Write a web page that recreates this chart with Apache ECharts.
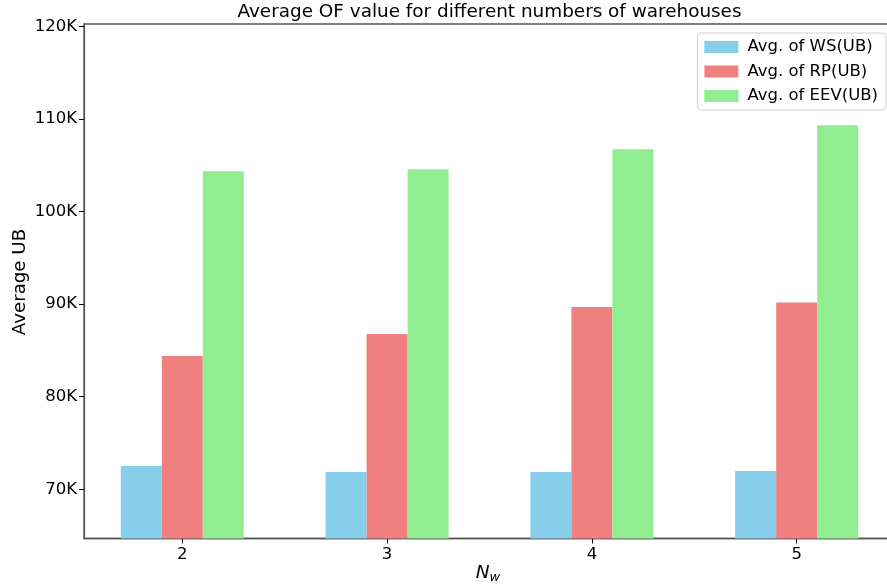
<!DOCTYPE html>
<html>
<head>
<meta charset="utf-8">
<script src="https://cdn.jsdelivr.net/npm/echarts@6/dist/echarts.min.js"></script>
<style>
  html, body { margin: 0; padding: 0; background: #fff; }
  #chart { width: 887px; height: 588px; }
</style>
</head>
<body>
<div id="chart"></div>
<script>
// Number of warehouses (category labels on the x axis)
const categories = ['2', '3', '4', '5'];
// Average upper bounds per configuration
const wsValues  = [72510, 71870, 71870, 71980];
const rpValues  = [84390, 86760, 89680, 90180];
const eevValues = [104360, 104570, 106730, 109320];
// Y tick positions
const yTicks = [70000, 80000, 90000, 100000, 110000, 120000];

const FONT = 'DejaVu Sans';
const xPos = categories.map((c, i) => i);

// y range: 90% of the smallest bar to 110% of the tallest bar
const allVals = wsValues.concat(rpValues, eevValues);
const yMin = Math.min(...allVals) * 0.9;
const yMax = Math.max(...allVals) * 1.1;

function toPoints(vals) { return vals.map((v, i) => [xPos[i], v]); }

const chart = echarts.init(document.getElementById('chart'), null, { renderer: 'canvas' });

chart.setOption({
  animation: false,
  backgroundColor: '#ffffff',
  textStyle: { fontFamily: FONT },
  grid: {
    left: 84, width: 811, top: 24, height: 514.5,
    outerBoundsMode: 'none',
    show: true, borderColor: '#555555', borderWidth: 1.3, backgroundColor: 'transparent'
  },
  legend: {
    orient: 'vertical',
    right: 1, top: 33,
    data: ['Avg. of WS(UB)', 'Avg. of RP(UB)', 'Avg. of EEV(UB)'],
    itemWidth: 34, itemHeight: 12, itemGap: 6.5,
    icon: 'rect',
    padding: [5, 8, 5, 7],
    borderColor: '#d0d0d0', borderWidth: 1, borderRadius: 4,
    backgroundColor: 'rgba(255,255,255,0.8)',
    textStyle: { fontFamily: FONT, fontSize: 16.5, color: '#000', lineHeight: 18, padding: [0, 0, 0, 4] }
  },
  xAxis: {
    type: 'value',
    min: -0.48, max: 3.48,
    splitLine: { show: false },
    axisLine: { show: true, onZero: false, lineStyle: { color: '#555555', width: 1.3 } },
    axisTick: { show: true, customValues: xPos, length: 5, lineStyle: { color: '#000' } },
    axisLabel: {
      customValues: xPos,
      formatter: v => categories[Math.round(v)],
      fontFamily: FONT, fontSize: 16.5, color: '#000', margin: 8
    }
  },
  yAxis: {
    type: 'value',
    min: yMin, max: yMax,
    splitLine: { show: false },
    axisLine: { show: true, onZero: false, lineStyle: { color: '#555555', width: 1.3 } },
    axisTick: { show: true, customValues: yTicks, length: 5, lineStyle: { color: '#000' } },
    axisLabel: {
      customValues: yTicks,
      formatter: v => Math.round(v / 1000) + 'K',
      fontFamily: FONT, fontSize: 16.5, color: '#000', margin: 7
    }
  },
  series: [
    { name: 'Avg. of WS(UB)', type: 'bar', data: toPoints(wsValues), barWidth: 41, barGap: '0%',
      itemStyle: { color: '#87ceeb' } },
    { name: 'Avg. of RP(UB)', type: 'bar', data: toPoints(rpValues), barWidth: 41, barGap: '0%',
      itemStyle: { color: '#f08080' } },
    { name: 'Avg. of EEV(UB)', type: 'bar', data: toPoints(eevValues), barWidth: 41, barGap: '0%',
      itemStyle: { color: '#90ee90' } }
  ],
  graphic: [
    { type: 'text', x: 489.5, y: 12, style: {
        text: 'Average OF value for different numbers of warehouses',
        font: '18.4px "DejaVu Sans"', fill: '#000', align: 'center', verticalAlign: 'middle' } },
    { type: 'text', x: 20, y: 282, rotation: Math.PI / 2, style: {
        text: 'Average UB', font: '18.2px "DejaVu Sans"', fill: '#000', align: 'center', verticalAlign: 'middle' } },
    { type: 'text', x: 488, y: 573, style: {
        text: '{n|N}{w|w}', align: 'center', verticalAlign: 'middle',
        rich: {
          n: { fontFamily: FONT, fontStyle: 'italic', fontSize: 18.5, color: '#000' },
          w: { fontFamily: FONT, fontStyle: 'italic', fontSize: 13, color: '#000', padding: [10, 0, 0, 0] }
        } } }
  ]
});
</script>
</body>
</html>
